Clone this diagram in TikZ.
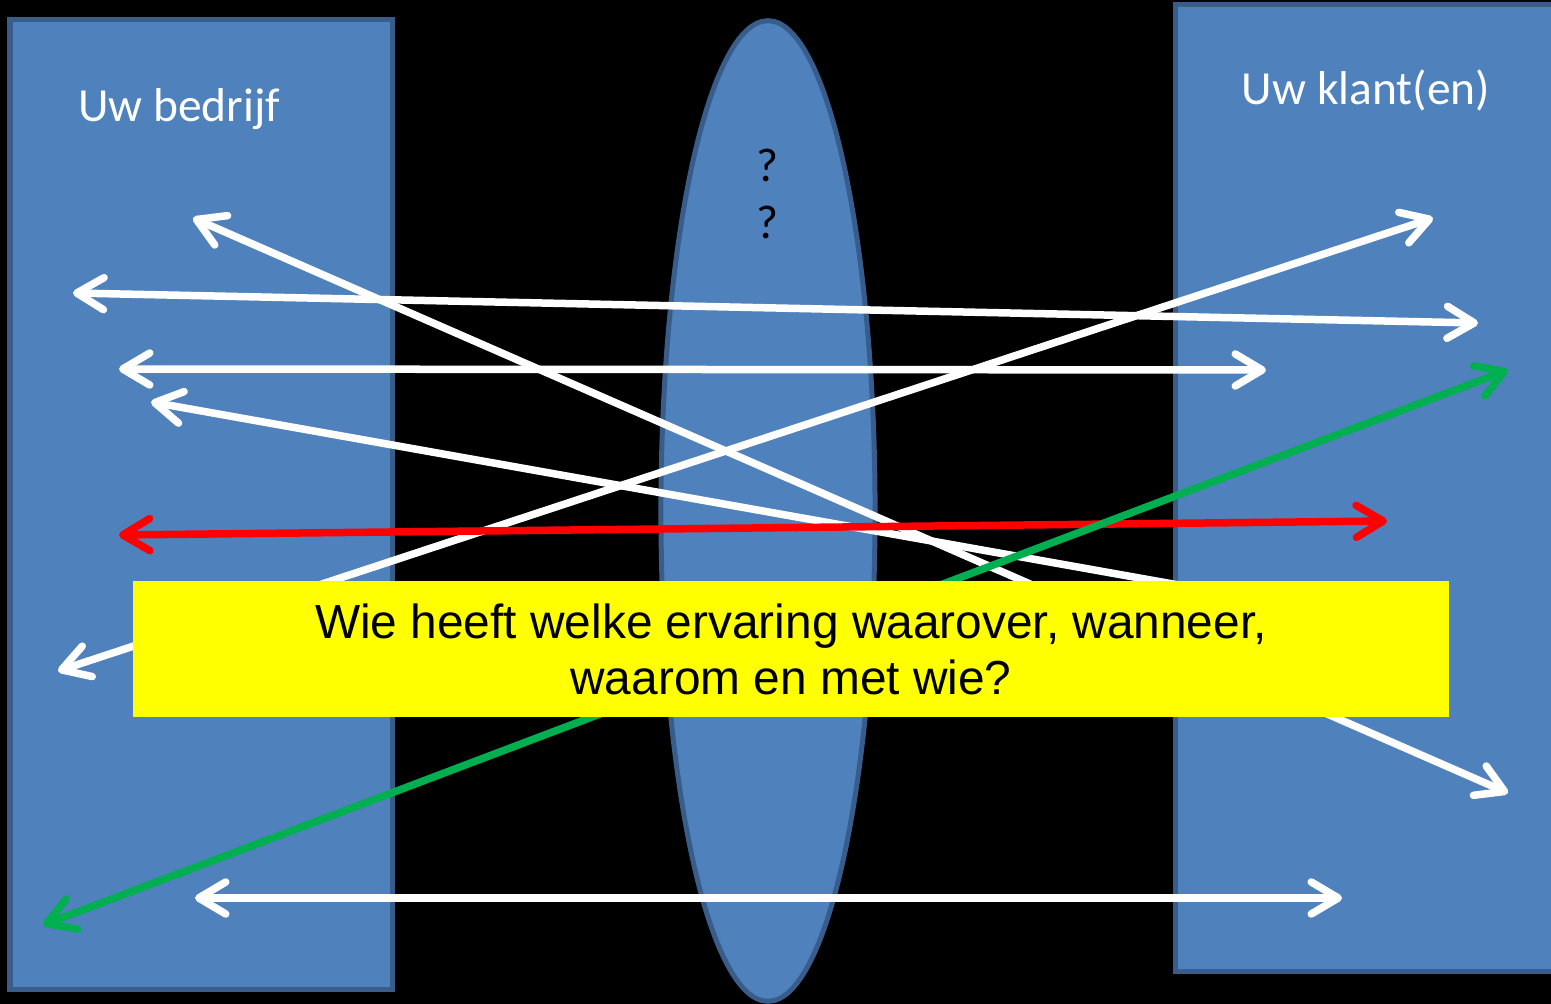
\documentclass[tikz,border=0pt]{standalone}
\usepackage{fontspec}
\setmainfont{Carlito}
\newfontfamily\arialfont{Liberation Sans}
\usetikzlibrary{arrows.meta, shapes.geometric}

\definecolor{boxblue}{HTML}{4F81BD}
\definecolor{boxedge}{HTML}{385D8A}
\definecolor{arrowred}{HTML}{FF0000}
\definecolor{arrowgreen}{HTML}{00B050}
\definecolor{notebox}{HTML}{FFFF00}

\tikzset{
  party/.style={draw=boxedge, fill=boxblue, line width=0.05cm},
  barb/.tip={Straight Barb[round, length=0.27cm, width=0.32cm]},
  twoway/.style={draw=white, line width=0.075cm, barb-barb},
  partylabel/.style={text=white, font=\fontsize{13.5}{16}\selectfont, anchor=base, inner sep=0pt},
}

\begin{document}
\begin{tikzpicture}[x=0.01cm, y=-0.01cm]
  \useasboundingbox (0,0) rectangle (1551,1004);
  \fill[black] (0,0) rectangle (1551,1004);
  \clip (0,0) rectangle (1551,1004);

  % the two parties and the lens between them
  \draw[party] (10,20) rectangle (392,990);
  \draw[party] (1175,5) rectangle (1600,972);
  \node[party, ellipse, minimum width=2.14cm, minimum height=9.8cm, inner sep=0pt] (lens) at (768,511) {};

  \node[partylabel] (company) at (179,122) {Uw bedrijf};
  \node[partylabel] (client) at (1366,105) {Uw klant(en)};
  \node[partylabel, text=black] (q1) at (767,182) {?};
  \node[partylabel, text=black] (q2) at (767,239) {?};

  % arrow ends
  \coordinate (a1) at (193,218);  \coordinate (b1) at (1508,793);
  \coordinate (a2) at (73,293);   \coordinate (b2) at (1478,323);
  \coordinate (a3) at (119,369);  \coordinate (b3) at (1266,370);
  \coordinate (a4) at (151,402);  \coordinate (b4) at (1420,628); % hidden behind the note
  \coordinate (a5) at (58,671);   \coordinate (b5) at (1433,218);
  \coordinate (a6) at (119,535);  \coordinate (b6) at (1387,521);
  \coordinate (a7) at (43,925);   \coordinate (b7) at (1508,370);
  \coordinate (a8) at (195,898);  \coordinate (b8) at (1342,898);

  \foreach \i in {1,2,3,4,5,8}
    \draw[twoway] (a\i) -- (b\i);
  \draw[twoway, draw=arrowred] (a6) -- (b6);
  \draw[twoway, draw=arrowgreen] (a7) -- (b7);

  % the question on top
  \node[fill=notebox, minimum width=13.16cm, minimum height=1.36cm, inner sep=0pt,
        align=center, font=\arialfont\fontsize{13.6}{15.9}\selectfont] (question) at (791,649)
    {Wie heeft welke ervaring waarover, wanneer,\\waarom en met wie?};
\end{tikzpicture}
\end{document}
